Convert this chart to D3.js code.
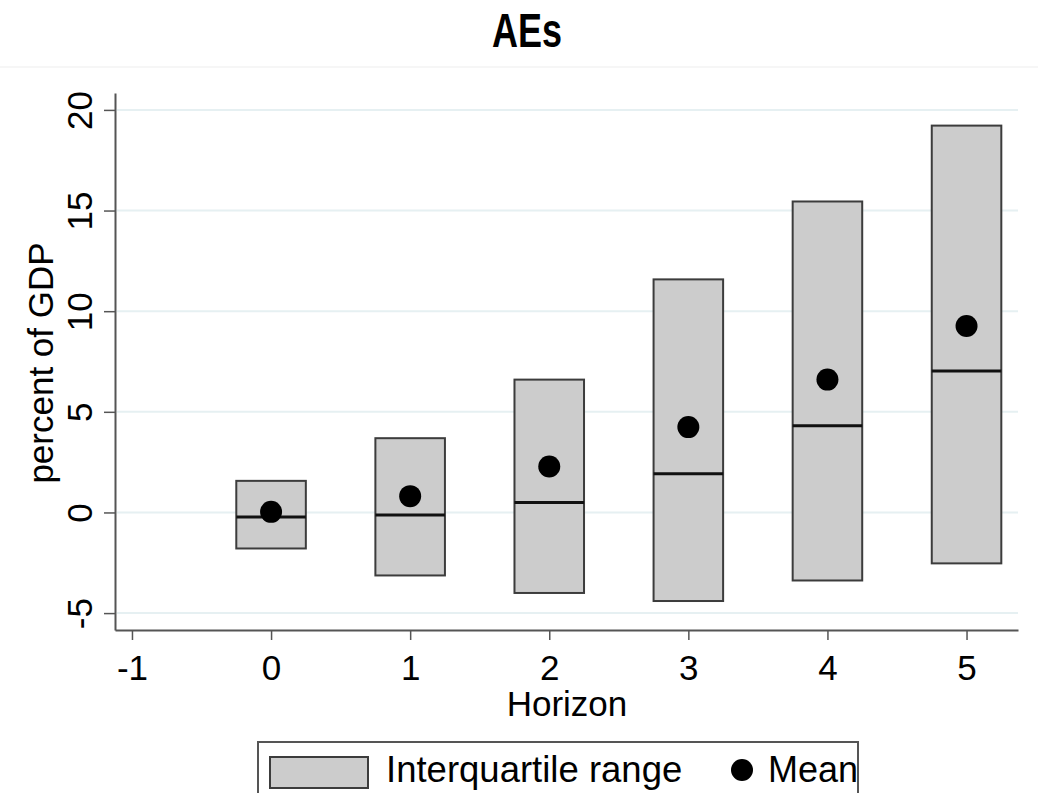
<!DOCTYPE html>
<html>
<head>
<meta charset="utf-8">
<script src="https://cdn.jsdelivr.net/npm/d3@7"></script>
<style>
  html, body { margin: 0; padding: 0; background: #fff; }
  svg { display: block; font-family: "Liberation Sans", Arial, sans-serif; }
</style>
</head>
<body>
<svg id="chart" width="1038" height="793"></svg>
<script>
// values
var horizons = [0, 1, 2, 3, 4, 5];
var p25 = [-1.79, -3.13, -4.00, -4.40, -3.38, -2.53];
var p75 = [1.57, 3.69, 6.60, 11.58, 15.45, 19.22];
var medians = [-0.22, -0.13, 0.50, 1.92, 4.31, 7.03];
var means = [0.03, 0.81, 2.28, 4.24, 6.60, 9.26];
var xTicks = [-1, 0, 1, 2, 3, 4, 5];
var yTicks = [-5, 0, 5, 10, 15, 20];

var svg = d3.select('#chart');

var x = d3.scaleLinear().domain([-1.122, 5.37]).range([115, 1018]);
var y = d3.scaleLinear().domain([-5.84, 20.84]).range([630, 93]);
var halfW = 0.25;
// plain hyphen for negatives, like the original
var fmt = d => String(d);

// title + faint separator under it
svg.append('text')
    .attr('x', 527).attr('y', 47)
    .attr('text-anchor', 'middle')
    .attr('font-weight', 'bold')
    .attr('font-size', 49)
    .attr('textLength', 70)
    .attr('lengthAdjust', 'spacingAndGlyphs')
    .text('AEs');

svg.append('line')
    .attr('x1', 0).attr('x2', 1038)
    .attr('y1', 67).attr('y2', 67)
    .attr('stroke', '#f3f3f3').attr('stroke-width', 1.5);

// grid
svg.append('g').selectAll('line')
    .data(yTicks)
    .join('line')
    .attr('x1', 117).attr('x2', 1018)
    .attr('y1', d => y(d)).attr('y2', d => y(d))
    .attr('stroke', '#e6f0f2').attr('stroke-width', 2);

// boxes
var rows = horizons.map((h, i) => ({h: h, lo: p25[i], hi: p75[i], med: medians[i], mean: means[i]}));

var g = svg.append('g');
g.selectAll('rect.iqr')
    .data(rows)
    .join('rect')
    .attr('class', 'iqr')
    .attr('x', d => x(d.h - halfW))
    .attr('width', d => x(d.h + halfW) - x(d.h - halfW))
    .attr('y', d => y(d.hi))
    .attr('height', d => y(d.lo) - y(d.hi))
    .attr('fill', '#cccccc')
    .attr('stroke', '#3c3c3c')
    .attr('stroke-width', 2);

g.selectAll('line.med')
    .data(rows)
    .join('line')
    .attr('class', 'med')
    .attr('x1', d => x(d.h - halfW)).attr('x2', d => x(d.h + halfW))
    .attr('y1', d => y(d.med)).attr('y2', d => y(d.med))
    .attr('stroke', '#111').attr('stroke-width', 3);

g.selectAll('circle.mean')
    .data(rows)
    .join('circle')
    .attr('class', 'mean')
    .attr('cx', d => x(d.h))
    .attr('cy', d => y(d.mean))
    .attr('r', 11)
    .attr('fill', '#000');

// axes
var yAxis = svg.append('g')
    .attr('transform', 'translate(115,0)')
    .call(d3.axisLeft(y).tickValues(yTicks).tickSize(11).tickSizeOuter(0).tickFormat(fmt));
yAxis.select('.domain').attr('stroke', '#555').attr('stroke-width', 2);
yAxis.selectAll('.tick line').attr('stroke', '#555').attr('stroke-width', 1.5);
yAxis.selectAll('.tick text')
    .attr('x', null).attr('dy', null)
    .attr('transform', 'translate(-23,0) rotate(-90)')
    .attr('text-anchor', 'middle')
    .attr('font-size', 35)
    .attr('fill', '#000')
    .attr('font-family', '"Liberation Sans", Arial, sans-serif');

var xAxis = svg.append('g')
    .attr('transform', 'translate(0,630)')
    .call(d3.axisBottom(x).tickValues(xTicks).tickSize(10).tickSizeOuter(0).tickFormat(fmt));
xAxis.select('.domain').attr('stroke', '#555').attr('stroke-width', 2);
xAxis.selectAll('.tick line').attr('stroke', '#555').attr('stroke-width', 1.5);
xAxis.selectAll('.tick text')
    .attr('y', 50).attr('dy', null)
    .attr('font-size', 35)
    .attr('fill', '#000')
    .attr('font-family', '"Liberation Sans", Arial, sans-serif');

// axis titles
svg.append('text')
    .attr('x', 567).attr('y', 716)
    .attr('text-anchor', 'middle')
    .attr('font-size', 35)
    .text('Horizon');

svg.append('text')
    .attr('transform', 'translate(53,363) rotate(-90)')
    .attr('text-anchor', 'middle')
    .attr('font-size', 35)
    .text('percent of GDP');

// legend (runs off the bottom edge like the original)
var leg = svg.append('g');
leg.append('rect')
    .attr('x', 258).attr('y', 742)
    .attr('width', 600).attr('height', 80)
    .attr('fill', '#fff')
    .attr('stroke', '#555').attr('stroke-width', 2);
leg.append('rect')
    .attr('x', 270).attr('y', 757)
    .attr('width', 98).attr('height', 31)
    .attr('fill', '#cccccc')
    .attr('stroke', '#3c3c3c').attr('stroke-width', 2);
leg.append('text')
    .attr('x', 386).attr('y', 782)
    .attr('font-size', 36.5)
    .text('Interquartile range');
leg.append('circle')
    .attr('cx', 742).attr('cy', 770).attr('r', 11)
    .attr('fill', '#000');
leg.append('text')
    .attr('x', 768).attr('y', 782)
    .attr('font-size', 36)
    .text('Mean');
</script>
</body>
</html>
